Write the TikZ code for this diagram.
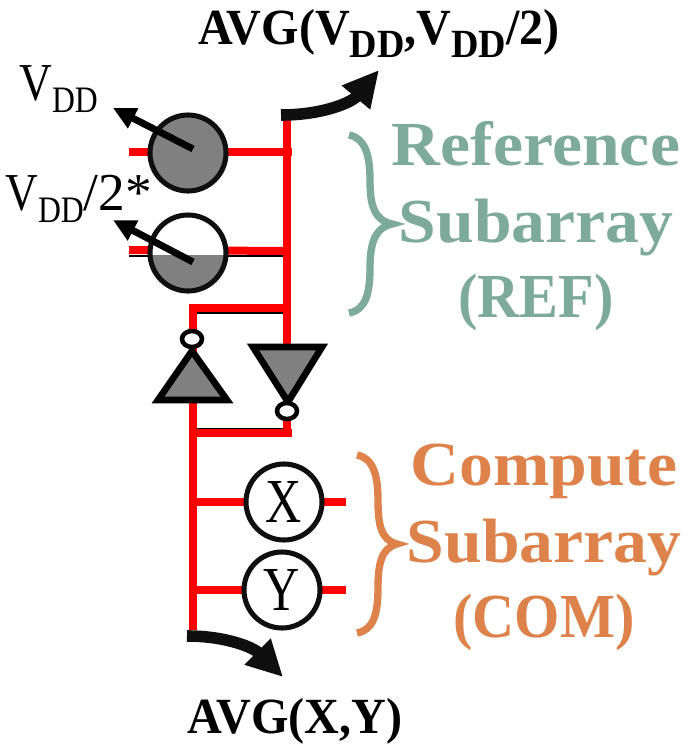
\documentclass[tikz,border=0pt]{standalone}
\usepackage{fontspec}
\setmainfont{Liberation Serif}
\newfontfamily\titlefont[FakeStretch=1.08]{Liberation Serif}
\newfontfamily\lowfont[FakeStretch=.93]{Liberation Serif}
\newfontfamily\resultfont[FakeStretch=.95]{Liberation Serif}
\newfontfamily\narrowfont[FakeStretch=.85]{Liberation Serif}
\newfontfamily\cellfont[FakeStretch=.8]{Liberation Serif}
\usetikzlibrary{arrows.meta, shapes.geometric}
\definecolor{wirered}{RGB}{255, 0, 0}
\definecolor{cellgray}{RGB}{128, 128, 128}
\definecolor{refteal}{RGB}{125, 170, 155}
\definecolor{comorange}{RGB}{222, 130, 75}
\definecolor{arrowblack}{RGB}{15, 15, 15}
\newcommand{\lowdd}[1]{\raisebox{-.24em}{\fontsize{#1}{#1}\selectfont DD}}
\begin{document}
\begin{tikzpicture}[
        x=0.75pt, y=-0.75pt,
        wire/.style={draw=wirered, line width=6pt},
        thinwire/.style={draw=black, line width=1.6pt},
        cell/.style={circle, draw=arrowblack, line width=3.8pt, minimum size=57pt, inner sep=0pt, font=\cellfont\fontsize{47}{47}\selectfont},
        gate/.style={draw=black, line width=5pt, fill=cellgray, miter limit=10},
        bubble/.style={ellipse, draw=black, line width=3.4pt, fill=white, minimum width=15pt, minimum height=12pt, inner sep=0pt},
        knob/.style={draw=black, line width=5.2pt, -{Triangle[length=17pt, width=16pt]}},
        bigarrow/.style={draw=arrowblack, line width=8.7pt, -{Triangle[length=27pt, width=26pt]}},
        brace/.style={line width=5.5pt, line cap=butt},
        title/.style={align=center, font=\titlefont\fontsize{47}{58}\selectfont\bfseries},
        vlabel/.style={font=\narrowfont\fontsize{40}{40}\selectfont, inner sep=0pt},
        result/.style={font=\resultfont\fontsize{38}{38}\selectfont\bfseries, inner sep=0pt}
    ]
    \useasboundingbox (0,0) rectangle (693,749);
    % junctions on the two bitlines
    \coordinate (reftop) at (287,120);
    \coordinate (refa) at (287,152);
    \coordinate (refb) at (287,251);
    \coordinate (refc) at (287,308);
    \coordinate (refd) at (287,433);
    \coordinate (coma) at (193,308);
    \coordinate (comb) at (193,433);
    \coordinate (comc) at (193,502);
    \coordinate (comd) at (193,590);
    \coordinate (combot) at (193,630);
    % black edges under the wires
    \draw[thinwire] (129,256) -- (150,256);
    \draw[thinwire] (225,256) -- (283,256);
    \draw[thinwire] (197,313) -- (283,313);
    \draw[thinwire] (197,429) -- (283,429);
    % wires
    \draw[wire] (reftop) -- (refd);
    \draw[wire] (combot) -- (coma) -- (refc);
    \draw[wire] (comb) -- ([xshift=4]refd);
    \coordinate (stuba) at (129,152);
    \coordinate (stubb) at (129,250);
    \coordinate (stubx) at (346,502);
    \coordinate (stuby) at (346,590);
    \draw[wire] (stuba) -- ([xshift=4]refa);
    \draw[wire] (stubb) -- (refb);
    \draw[wire] (comc) -- (stubx);
    \draw[wire] (comd) -- (stuby);
    % cells
    \node[cell, fill=cellgray] (vddcell) at (188,153) {};
    \node[cell, fill=white, path picture={\fill[cellgray] ([yshift=-1.5pt]path picture bounding box.east) rectangle (path picture bounding box.south west);}] (halfcell) at (188,253) {};
    \node[cell, fill=white] (xcell) at (284,502) {X};
    \node[cell, fill=white] (ycell) at (282,590) {Y};
    % sense amps
    \draw[gate] (192,351) -- (227,400) -- (158,400) -- cycle;
    \draw[gate] (253,347) -- (322,347) -- (288,402) -- cycle;
    \node[bubble] (upbubble) at (192,339) {};
    \node[bubble] (downbubble) at (287,411) {};
    % knobs
    \coordinate (vddtip) at (113,108);
    \coordinate (halftip) at (113,220);
    \draw[knob] (193,149) -- (vddtip);
    \draw[knob] (193,262) -- (halftip);
    % outputs
    \coordinate (refstart) at (281,115);
    \coordinate (refend) at (379,70);
    \coordinate (comstart) at (187,636);
    \coordinate (comend) at (283,677);
    \draw[bigarrow] (refstart) to[out=0, in=-130] (refend);
    \draw[bigarrow] (comstart) to[out=0, in=135] (comend);
    % braces
    \draw[brace, draw=refteal] (349,135) .. controls (365,138) and (370,155) .. (370,180) .. controls (370,205) and (374,220) .. (392,224) .. controls (374,228) and (370,245) .. (370,268) .. controls (370,295) and (365,310) .. (349,313);
    \draw[brace, draw=comorange] (357,455) .. controls (373,458) and (378,475) .. (378,500) .. controls (378,525) and (381,540) .. (397,544) .. controls (381,548) and (378,565) .. (378,588) .. controls (378,615) and (373,630) .. (357,633);
    % labels
    \node[title, text=refteal] (reflabel) at (536,226) {Reference\\Subarray\\[-2pt]{\lowfont\bfseries (REF)}};
    \node[title, text=comorange] (comlabel) at (544,547) {Compute\\Subarray\\[-2pt]{\lowfont\bfseries (COM)}};
    \node[vlabel, anchor=base west] (vddlabel) at (19,100) {V\lowdd{28}};
    \node[vlabel, anchor=base west] (halflabel) at (5,210) {V\lowdd{28}\normalfont/2*};
    \node[result, anchor=base] (reftitle) at (379,45) {AVG(V\lowdd{30},V\lowdd{30}/2)};
    \node[result, anchor=base] (comtitle) at (295,733) {AVG(X,Y)};
\end{tikzpicture}
\end{document}
